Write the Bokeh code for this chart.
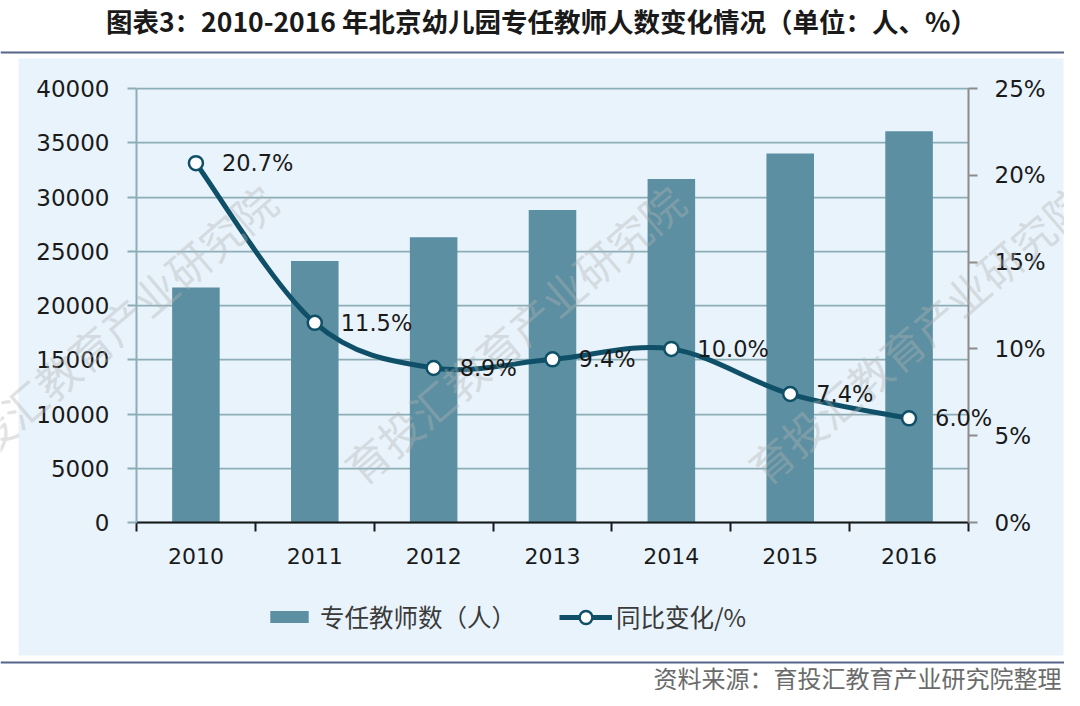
from bokeh.plotting import figure
from bokeh.models import (Range1d, LinearAxis, FixedTicker, BoxAnnotation, Label, LabelSet,
                          Legend, LegendItem, ColumnDataSource, PrintfTickFormatter, NumeralTickFormatter)
from bokeh.core.properties import value
from bokeh.embed import file_html
from bokeh.resources import INLINE

# ---------------- data ----------------
years = ["2010", "2011", "2012", "2013", "2014", "2015", "2016"]
teachers = [21650, 24100, 26300, 28800, 31650, 34000, 36050]
yoy = [20.7, 11.5, 8.9, 9.4, 10.0, 7.4, 6.0]
left_ticks = [0, 5000, 10000, 15000, 20000, 25000, 30000, 35000, 40000]
right_ticks = [0, 5, 10, 15, 20, 25]

title_text = "图表3：2010-2016 年北京幼儿园专任教师人数变化情况（单位：人、%）"
source_text = "资料来源：育投汇教育产业研究院整理"
watermark_text = "育投汇教育产业研究院"
bar_label = "专任教师数（人）"
line_label = "同比变化/%"

# ---------------- style / layout ----------------
PANEL = "#E8F3FB"
BAR = "#5B8FA1"
LINE = "#0F5068"
GRID = "#8DAEB7"
RULE = "#56648C"
TXT = "#1a1a1a"

W, H = 1064, 690
FX0, FX1 = 136, 968      # plot area left/right (px)
FY0, FY1 = 522, 88       # plot area bottom/top (px)
n = len(years)
YMAX, RMAX = 40000, 25
cat_px = (FX1 - FX0) / n
v_px = (FY0 - FY1) / YMAX
r_px = (FY0 - FY1) / RMAX

centers = [i + 0.5 for i in range(n)]
bounds = [i for i in range(n + 1)]

x_range = Range1d(-FX0 / cat_px, (W - FX0) / cat_px)
y_range = Range1d(-(H - FY0) / v_px, FY0 / v_px)

p = figure(width=W, height=H, x_range=x_range, y_range=y_range,
           output_backend="svg", toolbar_location=None, title_location=None,
           min_border=0, min_border_left=0, min_border_right=0, min_border_top=0, min_border_bottom=0)
p.background_fill_color = "white"
p.border_fill_color = "white"
p.outline_line_color = None
p.extra_y_ranges = {"right": Range1d(-(H - FY0) / r_px, FY0 / r_px)}

# panel and rules (screen units, from canvas bottom-left)
p.add_layout(BoxAnnotation(left=18, right=1063, top=H - 58, bottom=H - 655,
                           left_units="screen", right_units="screen", top_units="screen",
                           bottom_units="screen", fill_color=PANEL, fill_alpha=1,
                           line_color=None, level="image"))
for yy in [52, 662]:
    p.add_layout(BoxAnnotation(left=0, right=W, top=H - yy + 1, bottom=H - yy - 1,
                               left_units="screen", right_units="screen", top_units="screen",
                               bottom_units="screen", fill_color=RULE, fill_alpha=1,
                               line_color=None, level="image"))

# axes
xa = p.xaxis[0]
xa.fixed_location = 0
xa.bounds = (0, n)
xa.ticker = FixedTicker(ticks=centers, minor_ticks=bounds)
xa.major_label_overrides = {c: y for c, y in zip(centers, years)}
xa.major_tick_out = 0
xa.major_tick_in = 0
xa.minor_tick_out = 9
xa.minor_tick_in = 0
xa.minor_tick_line_color = TXT
xa.minor_tick_line_width = 2
xa.axis_line_color = TXT
xa.axis_line_width = 2
xa.major_label_standoff = 16
xa.major_label_text_font = "DejaVu Sans"
xa.major_label_text_font_size = "22px"
xa.major_label_text_color = TXT

ya = p.yaxis[0]
ya.fixed_location = 0
ya.bounds = (0, YMAX)
ya.ticker = FixedTicker(ticks=left_ticks)
ya.formatter = NumeralTickFormatter(format="0")
ya.major_tick_out = 9
ya.major_tick_in = 0
ya.minor_tick_line_color = None
ya.major_tick_line_color = GRID
ya.major_tick_line_width = 2
ya.axis_line_color = GRID
ya.axis_line_width = 2
ya.major_label_standoff = 18
ya.major_label_text_font = "DejaVu Sans"
ya.major_label_text_font_size = "23px"
ya.major_label_text_color = TXT

ra = LinearAxis(y_range_name="right", ticker=FixedTicker(ticks=right_ticks),
                formatter=PrintfTickFormatter(format="%d%%"), fixed_location=n,
                bounds=(0, RMAX))
ra.major_tick_out = 9
ra.major_tick_in = 0
ra.minor_tick_line_color = None
ra.major_tick_line_color = "#8C8C8C"
ra.major_tick_line_width = 2
ra.axis_line_color = "#8C8C8C"
ra.axis_line_width = 2
ra.major_label_standoff = 17
ra.major_label_text_font = "DejaVu Sans"
ra.major_label_text_font_size = "23px"
ra.major_label_text_color = TXT
p.add_layout(ra, "right")

p.xgrid.visible = False
p.ygrid.ticker = FixedTicker(ticks=left_ticks)
p.ygrid.bounds = (0, YMAX)
p.ygrid.cross_bounds = (0, n)
p.ygrid.grid_line_color = GRID
p.ygrid.grid_line_width = 1.75

# bars
bars = p.vbar(x=centers, top=teachers, width=0.4, fill_color=BAR, line_color=None)

# smooth line (cubic Bezier segments through the points)
P = list(zip(centers, yoy))
x0s, y0s, x1s, y1s, cx0s, cy0s, cx1s, cy1s = [], [], [], [], [], [], [], []
for i in range(n - 1):
    pa = P[i - 1] if i > 0 else P[i]
    pb = P[i]
    pc = P[i + 1]
    pd = P[i + 2] if i + 2 < n else P[i + 1]
    x0s.append(pb[0]); y0s.append(pb[1])
    x1s.append(pc[0]); y1s.append(pc[1])
    cx0s.append(pb[0] + (pc[0] - pa[0]) / 6); cy0s.append(pb[1] + (pc[1] - pa[1]) / 6)
    cx1s.append(pc[0] - (pd[0] - pb[0]) / 6); cy1s.append(pc[1] - (pd[1] - pb[1]) / 6)
p.bezier(x0=x0s, y0=y0s, x1=x1s, y1=y1s, cx0=cx0s, cy0=cy0s, cx1=cx1s, cy1=cy1s,
         line_color=LINE, line_width=5, line_cap="round", y_range_name="right")
# one-point line (draws nothing on the chart, hidden under the first marker) for the legend swatch
legend_line = p.line(x=centers[:1], y=yoy[:1], line_color=LINE, line_width=5, y_range_name="right")
markers = p.scatter(x=centers, y=yoy, size=14, marker="circle", fill_color="white",
                    line_color=LINE, line_width=2.5, y_range_name="right")

# watermarks
for wx in [105, 513, 917]:
    p.add_layout(Label(x=wx, y=H - 333, x_units="screen", y_units="screen", text=watermark_text,
                       angle=0.707, text_align="center", text_baseline="middle",
                       text_font="Noto Sans CJK SC", text_font_size="43px",
                       text_color="#b4b4b4", text_alpha=0.4))

src = ColumnDataSource(dict(x=centers, y=yoy, label=[f"{v:.1f}%" for v in yoy]))
p.add_layout(LabelSet(x="x", y="y", text="label", source=src, y_range_name="right",
                      x_offset=26, y_offset=0, text_baseline="middle", text_align="left",
                      text_font=value("DejaVu Sans"), text_font_size=value("22.5px"),
                      text_color=TXT))

# legends (two, so each swatch gets its own size)
leg_common = dict(orientation="horizontal", padding=0, margin=0, border_line_color=None,
                  background_fill_alpha=0, label_text_font="Noto Sans CJK SC",
                  label_text_font_size="24.5px", label_text_color="#3a3a3a")
leg1 = Legend(items=[LegendItem(label=bar_label, renderers=[bars])],
              location=(265, H - 634), glyph_width=48, glyph_height=15, label_standoff=7,
              **leg_common)
leg2 = Legend(items=[LegendItem(label=line_label, renderers=[legend_line, markers])],
              location=(559, H - 634), glyph_width=53, glyph_height=32, label_standoff=4,
              **leg_common)
p.add_layout(leg1)
p.add_layout(leg2)

# title and source
p.add_layout(Label(x=541, y=H - 20, x_units="screen", y_units="screen", text=title_text,
                   text_align="center", text_baseline="middle", text_font="Noto Sans CJK SC",
                   text_font_style="bold", text_font_size="26.5px", text_color=TXT))
p.add_layout(Label(x=1061, y=H - 677, x_units="screen", y_units="screen", text=source_text,
                   text_align="right", text_baseline="middle", text_font="Noto Sans CJK SC",
                   text_font_size="24px", text_color="#6b6b6b"))

open("out.html", "w").write(file_html(p, INLINE))
